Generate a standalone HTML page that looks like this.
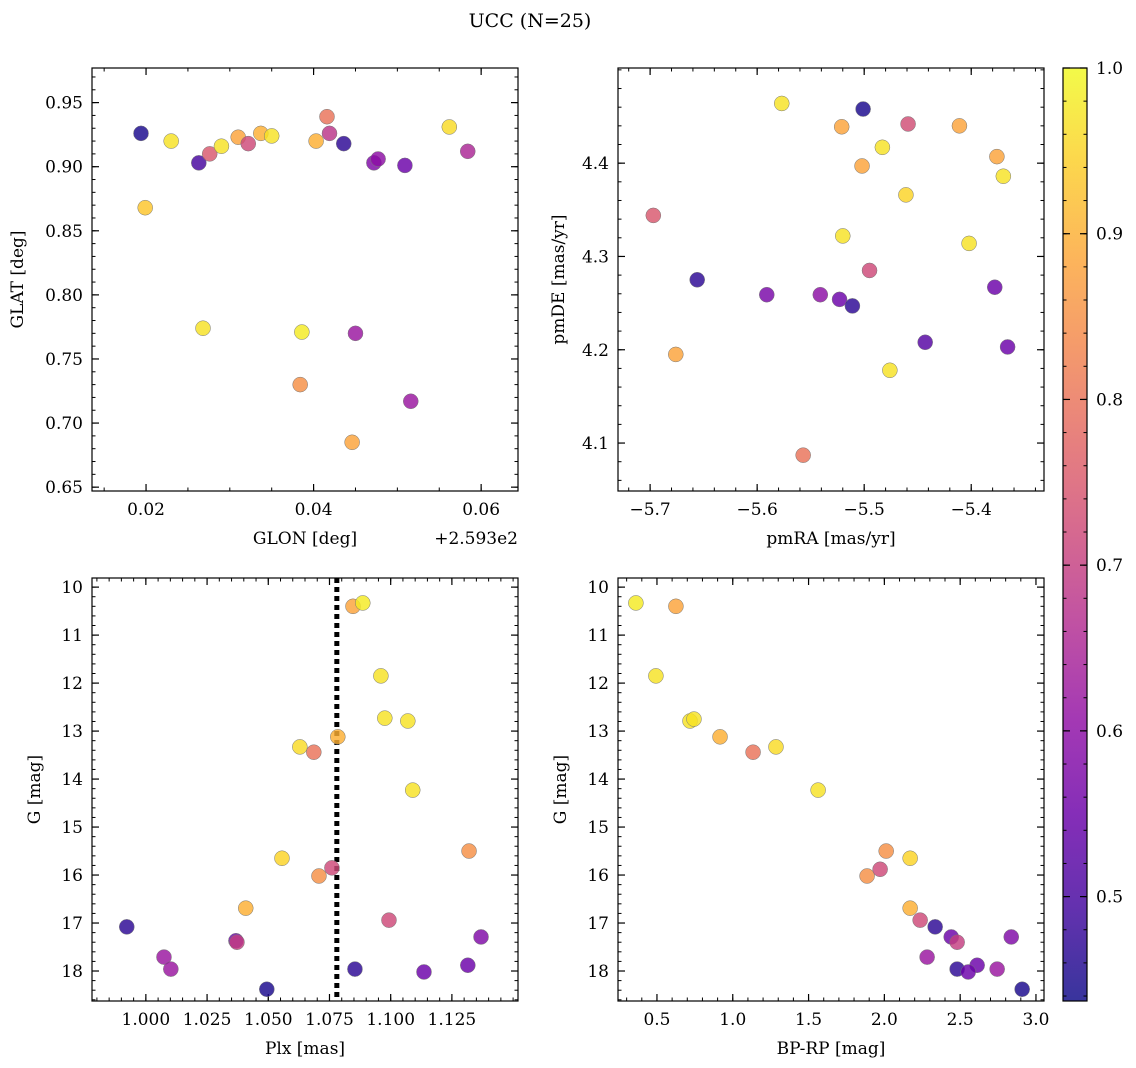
<!DOCTYPE html>
<html><head><meta charset="utf-8"><style>
html,body{margin:0;padding:0;background:#fff;}
svg{display:block;font-family:"DejaVu Serif","Liberation Serif",serif;}
</style></head><body>
<svg id="fig" width="1136" height="1068" viewBox="0 0 1136 1068" xmlns="http://www.w3.org/2000/svg">
<text x="530" y="27" font-size="19" text-anchor="middle">UCC (N=25)</text>
</svg>
<script>
// ---- data ----
const glonOff = [0.0194,0.0230,0.0199,0.0263,0.0276,0.0290,0.0310,0.0322,0.0337,0.0350,0.0268,0.0386,0.0384,0.0403,0.0416,0.0419,0.0436,0.0450,0.0446,0.0472,0.0477,0.0509,0.0516,0.0562,0.0584];
const glat = [0.926,0.920,0.868,0.903,0.910,0.916,0.923,0.918,0.926,0.924,0.774,0.771,0.730,0.920,0.939,0.926,0.918,0.770,0.685,0.903,0.906,0.901,0.717,0.931,0.912];
const probTL = [0.45,0.97,0.93,0.50,0.75,0.97,0.88,0.72,0.90,0.97,0.97,0.98,0.85,0.90,0.80,0.68,0.47,0.62,0.88,0.58,0.60,0.55,0.62,0.96,0.65];

const pmra = [-5.577,-5.501,-5.521,-5.459,-5.411,-5.483,-5.502,-5.376,-5.370,-5.461,-5.697,-5.520,-5.402,-5.495,-5.656,-5.591,-5.541,-5.523,-5.511,-5.378,-5.443,-5.366,-5.676,-5.476,-5.557];
const pmde = [4.464,4.458,4.439,4.442,4.440,4.417,4.397,4.407,4.386,4.366,4.344,4.322,4.314,4.285,4.275,4.259,4.259,4.254,4.247,4.267,4.208,4.203,4.195,4.178,4.087];
const probTR = [0.97,0.45,0.88,0.73,0.88,0.97,0.88,0.88,0.97,0.95,0.75,0.97,0.97,0.72,0.47,0.57,0.60,0.55,0.47,0.55,0.52,0.55,0.88,0.97,0.80];

const plx = [1.0846,1.0886,1.0960,1.0976,1.1070,1.0784,1.0629,1.0686,1.1090,1.1320,1.0556,1.0707,1.0760,1.0408,1.0993,0.9922,1.1369,1.0368,1.0372,1.0074,1.0102,1.0854,1.1315,1.1136,1.0494];
const gmagBL = [10.40,10.33,11.85,12.73,12.79,13.12,13.33,13.44,14.23,15.50,15.65,16.02,15.85,16.69,16.94,17.08,17.29,17.37,17.40,17.71,17.96,17.96,17.88,18.02,18.38];
const probBL = [0.88,0.98,0.97,0.97,0.97,0.90,0.96,0.80,0.97,0.85,0.95,0.85,0.72,0.90,0.72,0.47,0.58,0.55,0.70,0.62,0.62,0.47,0.55,0.55,0.45];
const plxLine = [1.078];

const bprp = [0.361,0.625,0.493,0.718,0.744,0.916,1.285,1.134,1.563,2.012,2.170,1.886,1.972,2.170,2.236,2.335,2.837,2.441,2.480,2.282,2.744,2.480,2.612,2.553,2.909];
const gmagBR = [10.33,10.40,11.85,12.79,12.75,13.12,13.33,13.44,14.23,15.50,15.65,16.02,15.88,16.69,16.94,17.08,17.29,17.29,17.40,17.71,17.96,17.96,17.88,18.02,18.38];
const probBR = [0.98,0.88,0.97,0.97,0.97,0.90,0.96,0.80,0.97,0.85,0.95,0.85,0.72,0.90,0.72,0.47,0.58,0.55,0.70,0.62,0.62,0.47,0.55,0.55,0.45];

const cbTicks = [0.5,0.6,0.7,0.8,0.9,1.0];
const cmin = 0.437, cmax = 1.0;

// ---- helpers ----
const NS = "http://www.w3.org/2000/svg";
const svg = document.getElementById('fig');
function mk(tag, attrs, parent){const e=document.createElementNS(NS,tag);for(const k in attrs)e.setAttribute(k,attrs[k]);(parent||svg).appendChild(e);return e;}
const stops=[[13,8,135],[65,4,157],[106,0,168],[143,13,164],[177,42,144],[204,71,120],[225,100,98],[242,132,75],[252,166,54],[252,206,37],[240,249,33]];
function plasma(t){t=Math.max(0,Math.min(1,t));const f=t*10,i=Math.min(9,Math.floor(f)),r=f-i;const a=stops[i],b=stops[i+1];return `rgb(${Math.round(a[0]+(b[0]-a[0])*r)},${Math.round(a[1]+(b[1]-a[1])*r)},${Math.round(a[2]+(b[2]-a[2])*r)})`;}
function cnorm(v){return (v-cmin)/(cmax-cmin);}

function panel(opt){
  const {x0,x1,y0,y1,xmin,xmax,ymin,ymax,name}=opt;
  const g=mk('g',{});
  
  
  const sx=v=>x0+(v-xmin)/(xmax-xmin)*(x1-x0);
  const sy=opt.invert?(v=>y0+(v-ymin)/(ymax-ymin)*(y1-y0)):(v=>y1-(v-ymin)/(ymax-ymin)*(y1-y0));
  // ticks
  const eps=1e-9;
  function ticksFor(min,max,step){const a=[];for(let v=Math.ceil(min/step-eps)*step;v<=max+eps;v+=step)a.push(+v.toFixed(6));return a;}
  ticksFor(xmin,xmax,opt.xminor).forEach(v=>{const x=sx(v);mk('line',{x1:x,x2:x,y1:y1,y2:y1-3.5,stroke:'#000','stroke-width':1},g);mk('line',{x1:x,x2:x,y1:y0,y2:y0+3.5,stroke:'#000','stroke-width':1},g);});
  ticksFor(ymin,ymax,opt.yminor).forEach(v=>{const y=sy(v);mk('line',{x1:x0,x2:x0+3.5,y1:y,y2:y,stroke:'#000','stroke-width':1},g);mk('line',{x1:x1,x2:x1-3.5,y1:y,y2:y,stroke:'#000','stroke-width':1},g);});
  opt.xticks.forEach((v,i)=>{const x=sx(v);mk('line',{x1:x,x2:x,y1:y1,y2:y1-7,stroke:'#000','stroke-width':1.2},g);mk('line',{x1:x,x2:x,y1:y0,y2:y0+7,stroke:'#000','stroke-width':1.2},g);
    const t=mk('text',{x:x,y:y1+24,'font-size':17,'text-anchor':'middle'},g);t.textContent=opt.xlabels[i];
    
    });
  opt.yticks.forEach((v,i)=>{const y=sy(v);mk('line',{x1:x0,x2:x0+7,y1:y,y2:y,stroke:'#000','stroke-width':1.2},g);mk('line',{x1:x1,x2:x1-7,y1:y,y2:y,stroke:'#000','stroke-width':1.2},g);
    const t=mk('text',{x:x0-9,y:y+6,'font-size':17,'text-anchor':'end'},g);t.textContent=opt.ylabels[i];
    
    });
  mk('rect',{x:x0,y:y0,width:x1-x0,height:y1-y0,fill:'none',stroke:'#000','stroke-width':1.2},g);
  const xl=mk('text',{x:(x0+x1)/2,y:y1+53,'font-size':17,'text-anchor':'middle'},g);xl.textContent=opt.xtitle;
  
  
  const yx=opt.ytx, yy=(y0+y1)/2;
  const yl=mk('text',{x:yx,y:yy,'font-size':17,'text-anchor':'middle',transform:`rotate(-90 ${yx} ${yy})`},g);yl.textContent=opt.ytitle;
  
  
  if(opt.vline!==undefined){const x=sx(opt.vline);const l=mk('line',{x1:x,x2:x,y1:y0,y2:y1,stroke:'#000','stroke-width':5,'stroke-dasharray':'5,4'},g);
    
    }
  opt.xs.forEach((v,i)=>{const c=mk('circle',{cx:sx(v),cy:sy(opt.ys[i]),r:7.5,fill:plasma(cnorm(opt.cs[i])),'fill-opacity':0.82,stroke:'#777','stroke-width':0.5},g);
    
    });
  return g;
}

panel({name:'glon-glat-panel',x0:92,x1:518,y0:68,y1:491,xmin:0.01355,xmax:0.0644,ymin:0.647,ymax:0.977,
  xticks:[0.02,0.04,0.06],xlabels:['0.02','0.04','0.06'],xminor:0.005,
  yticks:[0.65,0.70,0.75,0.80,0.85,0.90,0.95],ylabels:['0.65','0.70','0.75','0.80','0.85','0.90','0.95'],yminor:0.01,
  xtitle:'GLON [deg]',ytitle:'GLAT [deg]',ytx:23,xs:glonOff,ys:glat,cs:probTL});
const off=mk('text',{x:518,y:544,'font-size':17,'text-anchor':'end'});off.textContent='+2.593e2';



panel({name:'proper-motion-panel',x0:618,x1:1044,y0:68,y1:491,xmin:-5.730,xmax:-5.332,ymin:4.0486,ymax:4.502,
  xticks:[-5.7,-5.6,-5.5,-5.4],xlabels:['\u22125.7','\u22125.6','\u22125.5','\u22125.4'],xminor:0.02,
  yticks:[4.1,4.2,4.3,4.4],ylabels:['4.1','4.2','4.3','4.4'],yminor:0.02,
  xtitle:'pmRA [mas/yr]',ytitle:'pmDE [mas/yr]',ytx:564,xs:pmra,ys:pmde,cs:probTR});

panel({name:'parallax-magnitude-panel',x0:92,x1:518,y0:578,y1:1001,xmin:0.978,xmax:1.152,ymin:9.81,ymax:18.625,invert:true,
  xticks:[1.0,1.025,1.05,1.075,1.1,1.125],xlabels:['1.000','1.025','1.050','1.075','1.100','1.125'],xminor:0.005,
  yticks:[10,11,12,13,14,15,16,17,18],ylabels:['10','11','12','13','14','15','16','17','18'],yminor:0.2,
  xtitle:'Plx [mas]',ytitle:'G [mag]',ytx:40,xs:plx,ys:gmagBL,cs:probBL,vline:plxLine[0]});

panel({name:'color-magnitude-panel',x0:618,x1:1044,y0:578,y1:1001,xmin:0.243,xmax:3.053,ymin:9.81,ymax:18.625,invert:true,
  xticks:[0.5,1.0,1.5,2.0,2.5,3.0],xlabels:['0.5','1.0','1.5','2.0','2.5','3.0'],xminor:0.1,
  yticks:[10,11,12,13,14,15,16,17,18],ylabels:['10','11','12','13','14','15','16','17','18'],yminor:0.2,
  xtitle:'BP-RP [mag]',ytitle:'G [mag]',ytx:566,xs:bprp,ys:gmagBR,cs:probBR});

// colorbar
(function(){
  const x0=1063,x1=1087,y0=68,y1=1001;
  const g=mk('g',{});
  
  
  const defs=mk('defs',{},g);
  const lg=mk('linearGradient',{id:'cbg',x1:0,y1:1,x2:0,y2:0},defs);
  for(let i=0;i<=20;i++){mk('stop',{offset:(i/20),'stop-color':plasma(i/20),'stop-opacity':0.82},lg);}
  mk('rect',{x:x0,y:y0,width:x1-x0,height:y1-y0,fill:'url(#cbg)'},g);
  mk('rect',{x:x0,y:y0,width:x1-x0,height:y1-y0,fill:'none',stroke:'#000','stroke-width':1.2},g);
  const sy=v=>y1-(v-cmin)/(cmax-cmin)*(y1-y0);
  for(let v=0.44;v<=1.0001;v+=0.02){const y=sy(v);mk('line',{x1:x1,x2:x1-3.5,y1:y,y2:y,stroke:'#000','stroke-width':1},g);mk('line',{x1:x0,x2:x0+3.5,y1:y,y2:y,stroke:'#000','stroke-width':1},g);}
  cbTicks.forEach(v=>{const y=sy(v);mk('line',{x1:x1,x2:x1-7,y1:y,y2:y,stroke:'#000','stroke-width':1.2},g);mk('line',{x1:x0,x2:x0+7,y1:y,y2:y,stroke:'#000','stroke-width':1.2},g);
    const t=mk('text',{x:x1+9,y:y+6,'font-size':17},g);t.textContent=v.toFixed(1);
    
    });
})();
</script>
</body></html>
